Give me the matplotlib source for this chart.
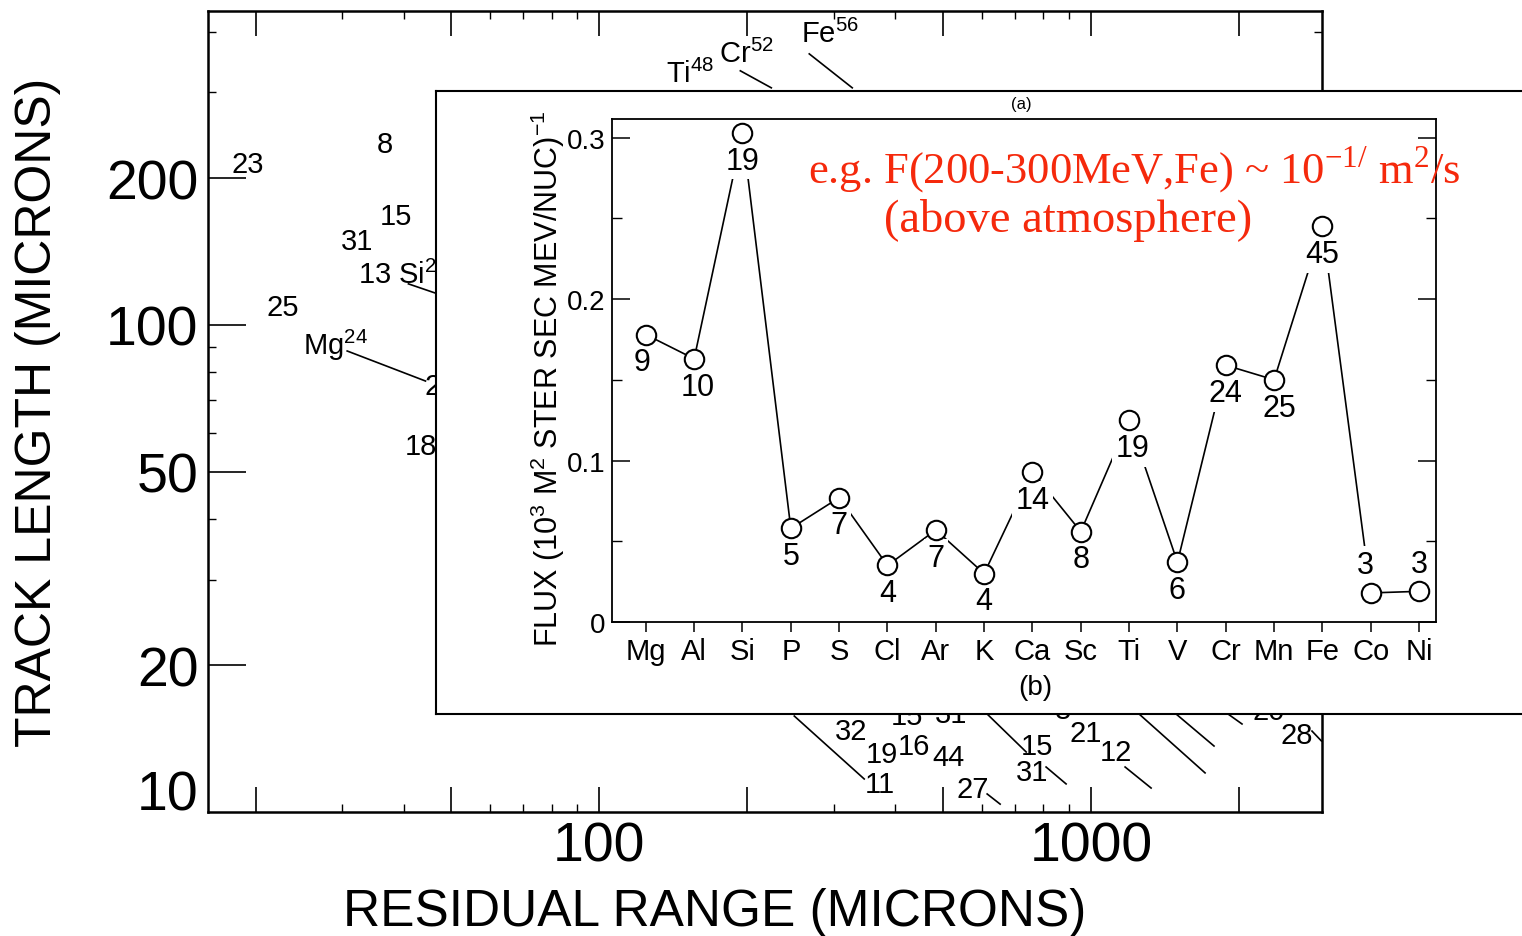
import matplotlib
matplotlib.use("Agg")
import matplotlib.pyplot as plt
import numpy as np

W, H = 1522, 937

# ── inset (b): flux per element, with event counts ─────────────────────
elements = ["Mg", "Al", "Si", "P", "S", "Cl", "Ar", "K", "Ca", "Sc",
            "Ti", "V", "Cr", "Mn", "Fe", "Co", "Ni"]
flux = [0.178, 0.163, 0.303, 0.058, 0.077, 0.035, 0.057, 0.030, 0.093,
        0.056, 0.125, 0.037, 0.159, 0.150, 0.245, 0.018, 0.019]
counts = [9, 10, 19, 5, 7, 4, 7, 4, 14, 8, 19, 6, 24, 25, 45, 3, 3]
flux_ticks = [0, 0.1, 0.2, 0.3]
flux_minor = [0.05, 0.15, 0.25]

# ── background: track length vs residual range (log-log) ──────────────
x_major = [20, 50, 100, 200, 500, 1000, 2000]
x_minor = [30, 40, 60, 70, 80, 90, 300, 400, 600, 700, 800, 900]
y_major = [20, 50, 100, 200]
y_minor = [30, 40, 60, 70, 80, 90, 300, 400]

# leader / track segments still visible around the inset
track_segments = [
    ((30.7, 88.4), (44.3, 76.7)),
    ((40.9, 121.4), (46.9, 115.8)),
    ((193.5, 332.4), (223.7, 306.7)),
    ((267.2, 360.1), (326.8, 306.7)),
    ((249.1, 15.74), (345.6, 11.69)),
    ((614.6, 15.89), (737.9, 13.28)),
    ((809.9, 12.37), (889.4, 11.42)),
    ((614.6, 10.89), (653.1, 10.38)),
    ((1172.5, 12.37), (1324.3, 11.20)),
    ((1252.2, 15.89), (1705.0, 12.03)),
    ((1489.0, 15.89), (1778.0, 13.66)),
    ((1899.0, 15.89), (2027.0, 15.16)),
    ((2813.0, 14.66), (2940.0, 13.99)),
]

bg_text = ["23", "8", "15", "31", r"13 Si$^{\mathregular{29}}$", "25",
           r"Mg$^{\mathregular{24}}$", "2", "18",
           r"Ti$^{\mathregular{48}}$", r"Cr$^{\mathregular{52}}$",
           r"Fe$^{\mathregular{56}}$",
           "32", "19", "11", "15", "16", "44", "31", "15", "31", "27",
           "8", "21", "12", "20", "28"]
bg_x = [19.3, 36.7, 38.5, 32.2, 40.0, 22.7, 29.1, 45.8, 43.3,
        153.1, 199.0, 294.8,
        325.2, 376.0, 372.5, 422.7, 436.7, 512.2, 519.4, 776.8, 758.9, 575.7,
        875.0, 975.0, 1124.0, 2300.0, 2620.0]
bg_y = [214.1, 235.3, 167.4, 148.8, 127.0, 108.9, 91.4, 74.9, 56.4,
        327.7, 360.1, 395.9,
        14.66, 13.16, 11.42, 15.74, 13.66, 12.97, 15.89, 13.66, 12.08, 11.15,
        16.2, 14.5, 13.28, 16.1, 14.4]

SANS = ["Liberation Sans", "DejaVu Sans"]
NARROW = ["Liberation Sans Narrow", "Liberation Sans", "DejaVu Sans"]
RED = "#f5290c"

plt.rcParams["font.family"] = SANS


def fx(px):
    return px / W


def fy(py):
    return 1 - py / H


fig = plt.figure(figsize=(W / 100, H / 100), dpi=100)

# ── background axes ───────────────────────────────────────────────────
ax = fig.add_axes([fx(208), fy(813), (1322 - 208) / W, (813 - 12) / H])
ax.set_xscale("log")
ax.set_yscale("log")
ax.set_xlim(16, 2948)
ax.set_ylim(10, 441)
for s in ax.spines.values():
    s.set_linewidth(1.8)

ax.set_xticks(x_major, labels=["100" if v == 100 else "1000" if v == 1000 else ""
                               for v in x_major])
ax.set_xticks(x_minor, labels=[""] * len(x_minor), minor=True)
ax.set_yticks(y_major, labels=[str(v) for v in y_major])
ax.set_yticks(y_minor, labels=[""] * len(y_minor), minor=True)
ax.tick_params(axis="x", which="major", direction="in", length=18, width=1.2,
               labelsize=40, pad=6, top=True)
ax.tick_params(axis="x", which="minor", direction="in", length=6, width=1.0, top=True)
ax.tick_params(axis="y", which="major", direction="in", length=27, width=1.2,
               labelsize=40, pad=7, right=True)
ax.tick_params(axis="y", which="minor", direction="in", length=6, width=1.0, right=True)

for (x0, y0), (x1, y1) in track_segments:
    ax.plot([x0, x1], [y0, y1], color="black", lw=1.2)
for t, x, y in zip(bg_text, bg_x, bg_y):
    ax.text(x, y, t, ha="center", va="center", fontsize=21)

fig.text(fx(198), fy(797), "10", ha="right", va="center", fontsize=40)
fig.text(fx(715), fy(913), "RESIDUAL RANGE (MICRONS)", ha="center", va="center",
         fontsize=37)
fig.text(fx(38), fy(412), "TRACK LENGTH (MICRONS)", ha="center", va="center",
         rotation=90, fontsize=36)

# ── inset frame ───────────────────────────────────────────────────────
box = fig.add_axes([fx(436), fy(715), (1545 - 436) / W, (715 - 92) / H])
box.set_xticks([])
box.set_yticks([])
for s in box.spines.values():
    s.set_linewidth(1.5)

# ── inset data axes ──────────────────────────────────────────────────
ins = fig.add_axes([fx(612), fy(623), (1436 - 612) / W, (623 - 120) / H])
ins.patch.set_alpha(0)
xs = np.arange(len(elements))
ins.plot(xs, flux, "-", color="black", lw=1.2, zorder=2)
ins.plot(xs, flux, "o", ms=14, mfc="white", mec="black", mew=1.5, zorder=4,
         clip_on=False)

# count labels: white box breaks the connecting line, as in the original
above = {"Co", "Ni"}
nudge = {"Mg": -4, "Al": 4, "Mn": 5, "Co": -5, "Ti": 3}
for i, (el, f, n) in enumerate(zip(elements, flux, counts)):
    dy = 20 if el in above else -20
    ins.annotate(str(n), (i, f), xytext=(nudge.get(el, 0) * 0.72, dy),
                 textcoords="offset points", ha="center", va="center",
                 fontsize=22, family=NARROW, zorder=3,
                 bbox=dict(boxstyle="square,pad=0.12", fc="white", ec="none"))

ins.set_xlim(-0.70, 16.35)
ins.set_ylim(0, 0.3115)
ins.set_xticks(xs, labels=elements)
ins.set_yticks(flux_ticks, labels=["0", "0.1", "0.2", "0.3"])
ins.set_yticks(flux_minor, minor=True)
for lab in ins.get_xticklabels():
    lab.set_family(NARROW)
ins.tick_params(axis="y", which="major", direction="in", length=13, width=1.1,
                labelsize=20, pad=5, right=True)
ins.tick_params(axis="y", which="minor", direction="in", length=7, width=1.0,
                right=True)
ins.tick_params(axis="x", direction="out", length=7, width=1.1, labelsize=21, pad=4)
for s in ins.spines.values():
    s.set_linewidth(1.3)

fig.text(fx(548), fy(379),
         r"FLUX (10$^{\mathregular{3}}$ M$^{\mathregular{2}}$ STER SEC MEV/NUC)$^{\mathregular{-1}}$",
         rotation=90, ha="center", va="center", fontsize=22)
fig.text(fx(1021), fy(105), "(a)", ha="center", va="center", fontsize=12)
fig.text(fx(1035), fy(688), "(b)", ha="center", va="center", fontsize=20,
         family=NARROW)

# ── red annotation ───────────────────────────────────────────────────
fig.text(fx(808), fy(184),
         r"e.g. F(200-300MeV,Fe) ~ 10$^{\mathregular{-1/}}$ m$^{\mathregular{2}}$/s",
         ha="left", va="baseline", fontsize=32, color=RED, family="Liberation Serif")
fig.text(fx(884), fy(232), "(above atmosphere)", ha="left", va="baseline",
         fontsize=33.5, color=RED, family="Liberation Serif")

fig.savefig("out.png", dpi=100)
